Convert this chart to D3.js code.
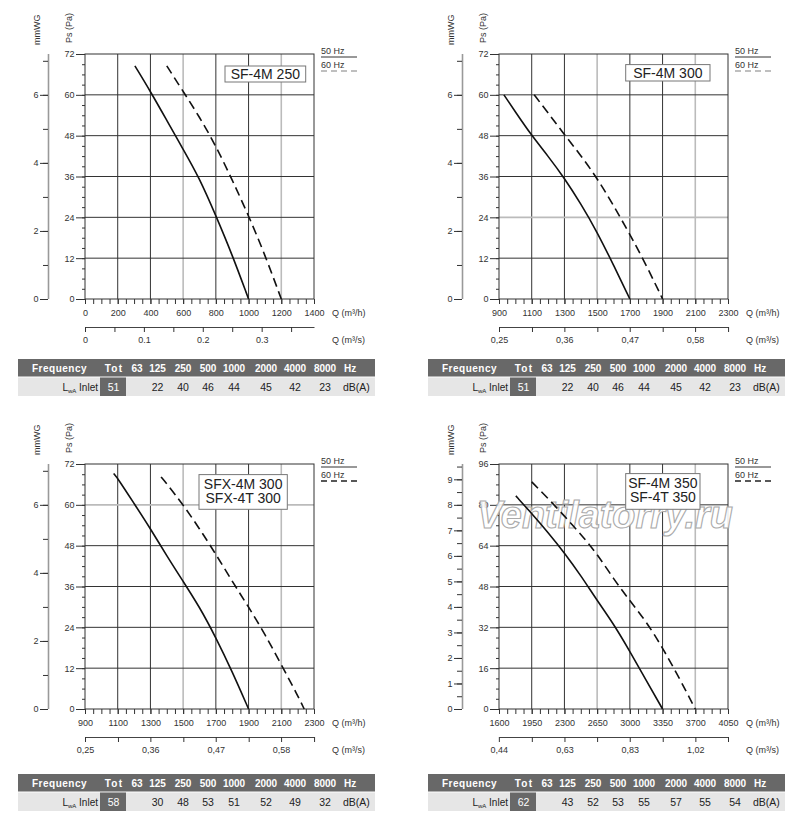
<!DOCTYPE html>
<html>
<head>
<meta charset="utf-8">
<script src="https://cdn.jsdelivr.net/npm/d3@7"></script>
<style>
  body { margin: 0; background: #fff; }
  svg text { font-family: "Liberation Sans", Arial, sans-serif; }
</style>
</head>
<body>
<svg id="chart" width="800" height="828"></svg>
<script>
// ---- data ----
const models = [['SF-4M 250'], ['SF-4M 300'], ['SFX-4M 300', 'SFX-4T 300'], ['SF-4M 350', 'SF-4T 350']]

// airflow axis, m3/h
const qTicks = [
  [0, 200, 400, 600, 800, 1000, 1200, 1400],
  [900, 1100, 1300, 1500, 1700, 1900, 2100, 2300],
  [900, 1100, 1300, 1500, 1700, 1900, 2100, 2300],
  [1600, 1950, 2300, 2650, 3000, 3350, 3700, 4050]
]
// second airflow axis, m3/s
const qsTicks = [
  [0, 0.05, 0.1, 0.15, 0.2, 0.25, 0.3, 0.35],
  [0.25, 0.306, 0.361, 0.417, 0.472, 0.528, 0.583, 0.639],
  [0.25, 0.306, 0.361, 0.417, 0.472, 0.528, 0.583, 0.639],
  [0.444, 0.542, 0.639, 0.736, 0.833, 0.931, 1.028, 1.125]
]
const qsLabels = [
  ['0', '', '0.1', '', '0.2', '', '0.3', ''],
  ['0,25', '', '0,36', '', '0,47', '', '0,58', ''],
  ['0,25', '', '0,36', '', '0,47', '', '0,58', ''],
  ['0,44', '', '0,63', '', '0,83', '', '1,02', '']
]
// static pressure axis, Pa
const psTicks = [
  [0, 12, 24, 36, 48, 60, 72],
  [0, 12, 24, 36, 48, 60, 72],
  [0, 12, 24, 36, 48, 60, 72],
  [0, 16, 32, 48, 64, 80, 96]
]
// static pressure axis, mmWG
const mmTicks = [
  [0, 1, 2, 3, 4, 5, 6, 7],
  [0, 1, 2, 3, 4, 5, 6, 7],
  [0, 1, 2, 3, 4, 5, 6, 7],
  [0, 0.5, 1, 1.5, 2, 2.5, 3, 3.5, 4, 4.5, 5, 5.5, 6, 6.5, 7, 7.5, 8, 8.5, 9, 9.5]
]
const mmLabels = [
  [0, 2, 4, 6],
  [0, 2, 4, 6],
  [0, 2, 4, 6],
  [0, 1, 2, 3, 4, 5, 6, 7, 8, 9]
]

// fan curves [Q m3/h, Ps Pa]
const curve50 = [
  [[305, 68.5], [400, 61], [500, 52.5], [600, 44], [700, 35.5], [800, 24.5], [900, 13], [1000, 0]],
  [[930, 60], [1000, 55], [1100, 48], [1200, 42], [1300, 35.5], [1400, 28], [1500, 19.7], [1600, 10], [1700, 0]],
  [[1075, 69.2], [1100, 67.8], [1200, 60.4], [1300, 53], [1400, 45], [1500, 37.5], [1600, 30], [1700, 21], [1800, 11], [1900, 0]],
  [[1780, 83.5], [1950, 76.6], [2125, 69.2], [2300, 61.2], [2475, 52.3], [2650, 42.5], [2825, 33.4], [3000, 22.6], [3175, 11.2], [3350, 0]]
]
const curve60 = [
  [[500, 68.5], [600, 61], [700, 53.5], [800, 45], [900, 35], [1000, 24.5], [1100, 13], [1200, 0]],
  [[1115, 60], [1200, 54.7], [1300, 48.3], [1400, 42.2], [1500, 35.5], [1600, 27.5], [1700, 19], [1800, 10], [1900, 0]],
  [[1365, 68.2], [1400, 66.2], [1500, 60], [1600, 53], [1700, 45.5], [1800, 37.5], [1900, 30], [2000, 22], [2100, 13], [2200, 4], [2240, 0]],
  [[1950, 89], [2125, 82.5], [2300, 75.6], [2475, 68.5], [2650, 60.8], [2825, 51], [3000, 42.4], [3175, 34.3], [3350, 24], [3525, 12.4], [3700, 0]]
]

// sound power
const bands = ['63', '125', '250', '500', '1000', '2000', '4000', '8000']
const lwaTot = [51, 51, 58, 62]
const lwaInlet = [
  [null, 22, 40, 46, 44, 45, 42, 23],
  [null, 22, 40, 46, 44, 45, 42, 23],
  [null, 30, 48, 53, 51, 52, 49, 32],
  [null, 43, 52, 53, 55, 57, 55, 54]
]

// ---- layout ----
const W = 229, H = 245
const plotX = [85, 499], plotY = [54, 464]
const tableX = [18, 428], tableY = [359, 774]
const colX = [119, 139.5, 165, 190, 216, 248, 277, 307]
const boxes = [[140, 12, 80.7, 16], [126.7, 10.6, 84.3, 16.4], [114, 10.6, 88.3, 34.7], [126.7, 9.6, 74.3, 35.7]]
const hGray = [-1, 1, 4, -1]

const svg = d3.select('#chart')

function styleAxis (sel, size) {
  sel.attr('font-family', '"Liberation Sans", Arial, sans-serif').attr('font-size', size)
  sel.selectAll('.tick line').attr('stroke', '#333')
  sel.selectAll('.tick text').attr('fill', '#333')
}

function drawPanel (i) {
  const ox = plotX[i % 2], oy = plotY[Math.floor(i / 2)]
  const qt = qTicks[i], pt = psTicks[i]
  const qMax = qt[qt.length - 1], pMax = pt[pt.length - 1]
  const x = d3.scaleLinear().domain([qt[0], qMax]).range([ox, ox + W])
  const xs = d3.scaleLinear().domain([qt[0] / 3600, qMax / 3600]).range([ox, ox + W])
  const y = d3.scaleLinear().domain([0, pMax]).range([oy + H, oy])
  const ym = d3.scaleLinear().domain([0, pMax / 10]).range([oy + H, oy])
  const g = svg.append('g')

  // grid
  g.selectAll('.vg').data(qt.slice(1, -1)).enter().append('line')
    .attr('x1', d => x(d)).attr('x2', d => x(d))
    .attr('y1', oy).attr('y2', oy + H)
    .attr('stroke', (d, k) => (k === 2 || k === 5) ? '#bbb' : '#333')
    .attr('stroke-width', (d, k) => (k === 2 || k === 5) ? 1.6 : 1)
  g.selectAll('.hg').data(pt.slice(1, -1)).enter().append('line')
    .attr('x1', ox).attr('x2', ox + W)
    .attr('y1', d => y(d)).attr('y2', d => y(d))
    .attr('stroke', (d, k) => k === hGray[i] ? '#bbb' : '#333')
    .attr('stroke-width', (d, k) => k === hGray[i] ? 1.6 : 1)
  g.append('rect').attr('x', ox).attr('y', oy).attr('width', W).attr('height', H)
    .attr('fill', 'none').attr('stroke', '#333')

  // Q m3/h axis
  const qStep = (qt[1] - qt[0]) / 4
  const qMinor = d3.range(qt[0], qMax + 1, qStep)
  const ax1 = g.append('g').attr('transform', `translate(0,${oy + H})`)
    .call(d3.axisBottom(x).tickValues(qMinor).tickSize(5).tickFormat(''))
  ax1.select('.domain').remove()
  styleAxis(ax1, 9)
  const ax1b = g.append('g').attr('transform', `translate(0,${oy + H})`)
    .call(d3.axisBottom(x).tickValues(qt).tickSize(5).tickPadding(6).tickFormat(d3.format('d')))
  ax1b.select('.domain').remove()
  styleAxis(ax1b, 9)

  // Q m3/s axis
  const ax2 = g.append('g').attr('transform', `translate(0,${oy + H + 28})`)
    .call(d3.axisBottom(xs).tickValues(qsTicks[i]).tickSize(5).tickSizeOuter(0).tickPadding(4.5)
      .tickFormat((d, k) => qsLabels[i][k]))
  ax2.select('.domain').attr('stroke', '#444')
  styleAxis(ax2, 9)

  g.append('text').attr('x', ox + W + 18).attr('y', oy + H + 17).attr('font-size', 9).attr('fill', '#333')
    .text('Q (m³/h)')
  g.append('text').attr('x', ox + W + 18).attr('y', oy + H + 44).attr('font-size', 9).attr('fill', '#333')
    .text('Q (m³/s)')

  // Ps axis
  const pStep = (pt[1] - pt[0]) / 4
  const ay1 = g.append('g').attr('transform', `translate(${ox},0)`)
    .call(d3.axisLeft(y).tickValues(d3.range(0, pMax + 0.1, pStep)).tickSize(3).tickFormat(''))
  ay1.select('.domain').remove()
  styleAxis(ay1, 9)
  const ay1b = g.append('g').attr('transform', `translate(${ox},0)`)
    .call(d3.axisLeft(y).tickValues(pt).tickSize(9).tickPadding(1.5))
  ay1b.select('.domain').remove()
  styleAxis(ay1b, 9)

  // mmWG axis
  const am = g.append('g').attr('transform', `translate(${ox - 37},0)`)
    .call(d3.axisLeft(ym).tickValues(mmTicks[i]).tickSize(5).tickSizeOuter(0).tickFormat(''))
  am.select('.domain').attr('stroke', '#999').attr('stroke-width', 1.6)
    .attr('d', `M0.5,${oy}V${oy + H}`)
  styleAxis(am, 9)
  const amb = g.append('g').attr('transform', `translate(${ox - 37},0)`)
    .call(d3.axisLeft(ym).tickValues(mmLabels[i]).tickSize(8).tickPadding(1.5))
  amb.select('.domain').remove()
  styleAxis(amb, 9)

  g.append('text').attr('transform', `translate(${ox - 45},${oy - 9}) rotate(-90)`)
    .attr('font-size', 9).attr('fill', '#333').text('mmWG')
  g.append('text').attr('transform', `translate(${ox - 13},${oy - 11}) rotate(-90)`)
    .attr('font-size', 9).attr('fill', '#333').text('Ps (Pa)')

  // legend
  const lx = ox + W + 7
  const dashCol = i < 2 ? '#aaa' : '#222'
  g.append('text').attr('x', lx).attr('y', oy).attr('font-size', 9).attr('fill', '#333').text('50 Hz')
  g.append('line').attr('x1', lx).attr('x2', lx + 36).attr('y1', oy + 3).attr('y2', oy + 3)
    .attr('stroke', '#333')
  g.append('text').attr('x', lx).attr('y', oy + 13.5).attr('font-size', 9).attr('fill', '#333').text('60 Hz')
  g.append('line').attr('x1', lx).attr('x2', lx + 36).attr('y1', oy + 17).attr('y2', oy + 17)
    .attr('stroke', dashCol).attr('stroke-width', 1.4).attr('stroke-dasharray', '6,4')

  // watermark
  if (i === 3) {
    g.append('text').attr('x', ox - 22).attr('y', oy + 64)
      .attr('font-size', 38).attr('font-style', 'italic').attr('font-weight', 'bold')
      .attr('textLength', 256).attr('lengthAdjust', 'spacingAndGlyphs')
      .attr('fill', '#fff').attr('fill-opacity', 0.9).attr('stroke', '#aaa').attr('stroke-width', 1.1)
      .text('Ventilatorry.ru')
  }

  // curves
  const line = d3.line().x(d => x(d[0])).y(d => y(d[1])).curve(d3.curveBasis)
  g.append('path').datum(curve50[i]).attr('d', line)
    .attr('fill', 'none').attr('stroke', '#111').attr('stroke-width', 1.6)
  g.append('path').datum(curve60[i]).attr('d', line)
    .attr('fill', 'none').attr('stroke', '#111').attr('stroke-width', 1.6)
    .attr('stroke-dasharray', '9,5')

  // model box
  const b = boxes[i]
  g.append('rect').attr('x', ox + b[0]).attr('y', oy + b[1]).attr('width', b[2]).attr('height', b[3])
    .attr('fill', '#fff').attr('stroke', '#777')
  const names = models[i]
  g.selectAll('.model').data(names).enter().append('text')
    .attr('x', ox + b[0] + b[2] / 2)
    .attr('y', (d, k) => names.length === 1 ? oy + b[1] + b[3] / 2 + 5 : oy + b[1] + 14 + k * 14.5)
    .attr('text-anchor', 'middle').attr('font-size', 14).attr('fill', '#222')
    .text(d => d)

  // sound table
  const tx = tableX[i % 2], ty = tableY[Math.floor(i / 2)]
  const t = svg.append('g').attr('transform', `translate(${tx},${ty})`)
  t.append('rect').attr('width', 357).attr('height', 17.5).attr('fill', '#686868')
  t.append('rect').attr('y', 18.5).attr('width', 357).attr('height', 18.5).attr('fill', '#e6e6e6')
  t.append('rect').attr('x', 82).attr('y', 18.5).attr('width', 26).attr('height', 18.5).attr('fill', '#686868')
  t.append('text').attr('x', 14).attr('y', 12.5).attr('font-size', 10).attr('font-weight', 'bold')
    .attr('letter-spacing', 0.5).attr('fill', '#fff').text('Frequency')
  t.append('text').attr('x', 96).attr('y', 12.8).attr('font-size', 10).attr('font-weight', 'bold')
    .attr('letter-spacing', 1.2).attr('text-anchor', 'middle').attr('fill', '#fff').text('Tot')
  t.selectAll('.band').data(bands).enter().append('text')
    .attr('x', (d, k) => colX[k]).attr('y', 12.8).attr('text-anchor', 'middle')
    .attr('font-size', 10).attr('font-weight', 'bold').attr('fill', '#fff').text(d => d)
  t.append('text').attr('x', 326).attr('y', 12.8).attr('font-size', 10).attr('font-weight', 'bold')
    .attr('fill', '#fff').text('Hz')

  const lab = t.append('text').attr('x', 80).attr('y', 31.5).attr('text-anchor', 'end')
    .attr('font-size', 10).attr('fill', '#222')
  lab.append('tspan').text('L')
  lab.append('tspan').attr('font-size', 6).attr('dy', 2).text('wA')
  lab.append('tspan').attr('dy', -2).text(' Inlet')
  t.append('text').attr('x', 95.5).attr('y', 32).attr('text-anchor', 'middle')
    .attr('font-size', 10.5).attr('fill', '#fff').text(lwaTot[i])
  t.selectAll('.val').data(lwaInlet[i]).enter().append('text')
    .attr('x', (d, k) => colX[k]).attr('y', 32).attr('text-anchor', 'middle')
    .attr('font-size', 10.5).attr('fill', '#222').text(d => d === null ? '' : d)
  t.append('text').attr('x', 325).attr('y', 32).attr('font-size', 10.5).attr('fill', '#222').text('dB(A)')
}

models.forEach((m, i) => drawPanel(i))
</script>
</body>
</html>
